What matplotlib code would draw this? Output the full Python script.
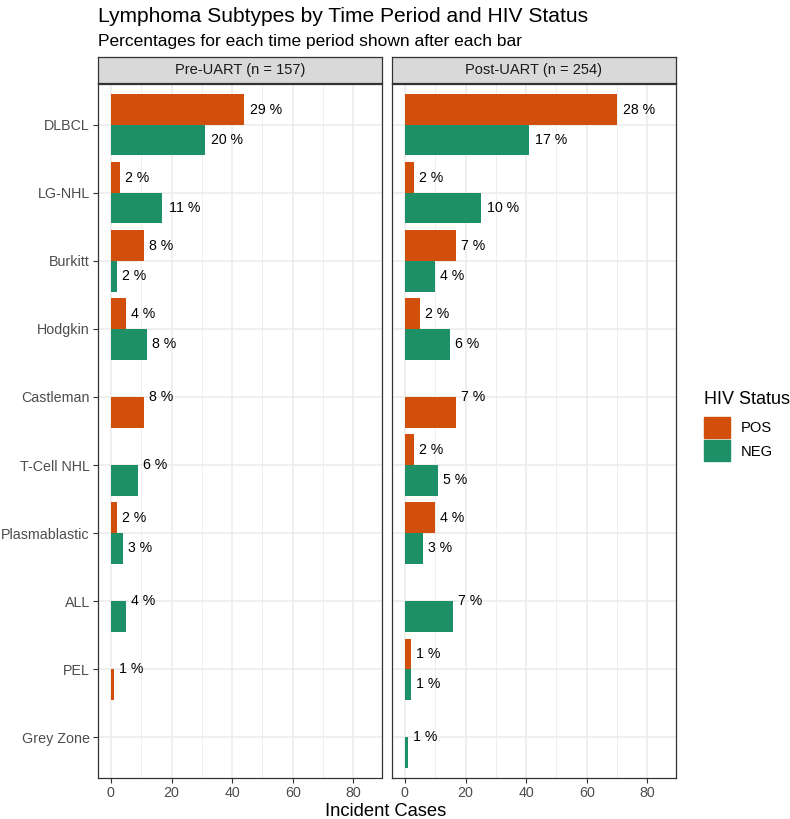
import numpy as np
import matplotlib
matplotlib.use("Agg")
import matplotlib.pyplot as plt
from matplotlib.patches import Patch

plt.rcParams['font.family'] = ['Liberation Sans', 'DejaVu Sans']

categories = ['DLBCL', 'LG-NHL', 'Burkitt', 'Hodgkin', 'Castleman',
              'T-Cell NHL', 'Plasmablastic', 'ALL', 'PEL', 'Grey Zone']

# incident cases (None = no bar)
pre_pos = [44, 3, 11, 5, 11, None, 2, None, 1, None]
pre_neg = [31, 17, 2, 12, None, 9, 4, 5, None, None]
post_pos = [70, 3, 17, 5, 17, 3, 10, None, 2, None]
post_neg = [41, 25, 10, 15, None, 11, 6, 16, 2, 1]

# percentage labels shown after each bar
pre_pos_lab = ['29 %', '2 %', '8 %', '4 %', '8 %', None, '2 %', None, '1 %', None]
pre_neg_lab = ['20 %', '11 %', '2 %', '8 %', None, '6 %', '3 %', '4 %', None, None]
post_pos_lab = ['28 %', '2 %', '7 %', '2 %', '7 %', '2 %', '4 %', None, '1 %', None]
post_neg_lab = ['17 %', '10 %', '4 %', '6 %', None, '5 %', '3 %', '7 %', '1 %', '1 %']

panels = ['Pre-UART (n = 157)', 'Post-UART (n = 254)']
pos_col = '#D24F0B'
neg_col = '#1E9068'

W, H = 790, 819
fig = plt.figure(figsize=(W / 100, H / 100), dpi=100)


def fx(px):
    return px / W


def fy(py):
    return 1 - py / H


def draw_panel(ax, pos, neg, pos_lab, neg_lab):
    for i in range(len(categories)):
        both = pos[i] is not None and neg[i] is not None
        for val, lab, col, off in [(pos[i], pos_lab[i], pos_col, -0.225),
                                   (neg[i], neg_lab[i], neg_col, 0.225)]:
            if val is None:
                continue
            # a lone bar sits in the lower slot, its label on the category line
            ybar = i + off if both else i + 0.225
            ax.barh(ybar, val, height=0.45, color=col, zorder=3)
            ytxt = i + off if both else i
            ax.annotate(lab, (val, ytxt), xytext=(1.1 * len(lab), 0),
                        textcoords='offset points', ha='left', va='center',
                        fontsize=10.2, color='black', zorder=4)
    ax.set_xlim(-4.25, 89.25)
    ax.set_ylim(len(categories) - 0.4, -0.6)
    ax.set_xticks([0, 20, 40, 60, 80])
    ax.set_xticks([10, 30, 50, 70], minor=True)
    ax.set_yticks(range(len(categories)))
    ax.grid(which='major', color='#EBEBEB', linewidth=1.1, zorder=0)
    ax.grid(which='minor', axis='x', color='#EBEBEB', linewidth=0.6, zorder=0)
    ax.tick_params(which='minor', length=0)
    ax.tick_params(which='major', length=3.3, width=0.8, color='#333333',
                   labelcolor='#4D4D4D', labelsize=10.3, pad=2.6)
    for s in ax.spines.values():
        s.set_color('#333333')
        s.set_linewidth(0.9)
    ax.set_axisbelow(True)


lefts = [98, 392]
pw = 283.5
ax_pre = fig.add_axes([fx(lefts[0]), fy(778), fx(pw), (778 - 84) / H])
ax_post = fig.add_axes([fx(lefts[1]), fy(778), fx(pw), (778 - 84) / H])
draw_panel(ax_pre, pre_pos, pre_neg, pre_pos_lab, pre_neg_lab)
draw_panel(ax_post, post_pos, post_neg, post_pos_lab, post_neg_lab)
ax_pre.set_yticklabels(categories)
ax_post.set_yticklabels([])
ax_post.tick_params(axis='y', length=0)

# facet strips
for left, name in zip(lefts, panels):
    sax = fig.add_axes([fx(left), fy(83), fx(pw), 26 / H])
    sax.set_facecolor('#D9D9D9')
    sax.set_xticks([])
    sax.set_yticks([])
    for s in sax.spines.values():
        s.set_color('#333333')
        s.set_linewidth(0.9)
    sax.text(0.5, 0.5, name, ha='center', va='center', fontsize=10.5,
             color='#1A1A1A', transform=sax.transAxes)

fig.text(fx(98), fy(22), 'Lymphoma Subtypes by Time Period and HIV Status',
         fontsize=15.1, ha='left', va='baseline')
fig.text(fx(98), fy(46), 'Percentages for each time period shown after each bar',
         fontsize=12.55, ha='left', va='baseline')
fig.text(fx(386), fy(811), 'Incident Cases', fontsize=13.2, ha='center', va='center')

# legend
fig.text(fx(704), fy(399), 'HIV Status', fontsize=13, ha='left', va='center')
handles = [Patch(color=pos_col), Patch(color=neg_col)]
fig.legend(handles, ['POS', 'NEG'], loc='upper left',
           bbox_to_anchor=(fx(704), fy(417)), frameon=False, fontsize=10.6,
           borderpad=0, borderaxespad=0, handlelength=1.77, handleheight=1.77,
           handletextpad=0.75, labelspacing=0.2)

fig.savefig('out.png', dpi=100)
